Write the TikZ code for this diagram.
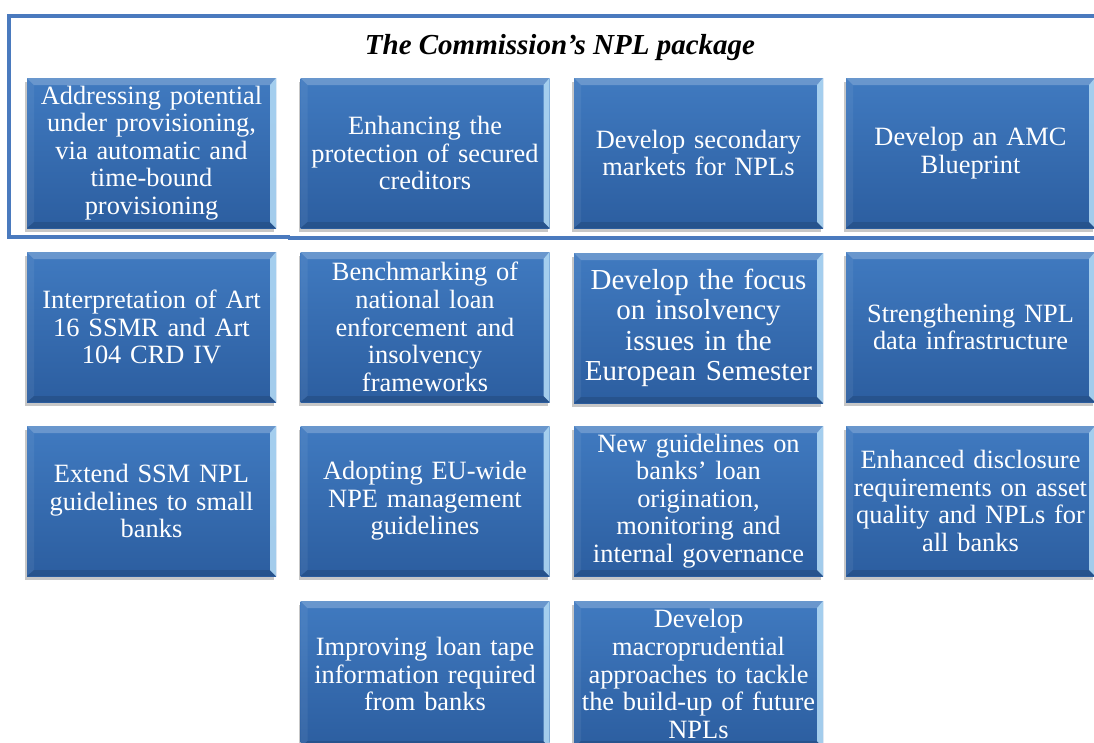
\documentclass[tikz,border=0pt]{standalone}
\usepackage{fontspec}
\setmainfont{Liberation Serif}
\usetikzlibrary{shadows}
\definecolor{frameblue}{RGB}{74,122,190}
\definecolor{boxtop}{RGB}{64,122,192}
\definecolor{boxbot}{RGB}{44,94,160}
\definecolor{bevright}{RGB}{176,216,244}
\tikzset{
  bx/.style={minimum width=249pt, minimum height=150pt, inner sep=0pt,
    text width=244pt, align=center, text=white,
    top color=boxtop, bottom color=boxbot, draw=none,
    font=\fontsize{26.4}{27.6}\selectfont,
    drop shadow={shadow xshift=-2pt, shadow yshift=-4pt, opacity=0.22, fill=black},
    path picture={
      \coordinate (pnw) at (path picture bounding box.north west);
      \coordinate (pne) at (path picture bounding box.north east);
      \coordinate (psw) at (path picture bounding box.south west);
      \coordinate (pse) at (path picture bounding box.south east);
      \fill[white, opacity=0.22] (pnw) -- (pne) -- ([shift={(-6pt,-7pt)}]pne) -- ([shift={(7pt,-7pt)}]pnw) -- cycle;
      \fill[black, opacity=0.12] (psw) -- (pse) -- ([shift={(-6pt,6pt)}]pse) -- ([shift={(7pt,6pt)}]psw) -- cycle;
      \fill[white, opacity=0.06] (pnw) -- (psw) -- ([shift={(7pt,6pt)}]psw) -- ([shift={(7pt,-7pt)}]pnw) -- cycle;
      \fill[bevright, opacity=0.9] (pne) -- (pse) -- ([shift={(-6pt,6pt)}]pse) -- ([shift={(-6pt,-7pt)}]pne) -- cycle;
    }},
  bigtxt/.style={font=\fontsize{29}{30.3}\selectfont},
  lowbx/.style={minimum height=146pt},
  frame/.style={draw=frameblue, line width=4pt},
  titlefont/.style={font=\fontsize{29}{30}\selectfont\bfseries\itshape}
}
\begin{document}
\begin{tikzpicture}[x=1pt,y=-1pt]
\path[use as bounding box] (0,0) rectangle (1094,742);
\clip (0,0) rectangle (1094,742);
\fill[white] (0,0) rectangle (1094,742);
\draw[frame] (1120,16) -- (9,16) -- (9,237) -- (290,237);
\draw[frame] (288,238) -- (1120,238);
\node[titlefont] (title) at (560,48) {The Commission’s NPL package};
% row 1
\node[bx] (a) at (151.5,153) {Addressing potential\\under provisioning,\\via automatic and\\time-bound\\provisioning};
\node[bx] (b) at (425,153) {Enhancing the\\protection of secured\\creditors};
\node[bx] (c) at (698.5,153) {Develop secondary\\markets for NPLs};
\node[bx] (d) at (970.5,153) {Develop an AMC\\Blueprint};
% row 2
\node[bx] (e) at (151.5,327) {Interpretation of Art\\16 SSMR and Art\\104 CRD IV};
\node[bx] (f) at (425,327) {Benchmarking of\\national loan\\enforcement and\\insolvency\\frameworks};
\node[bx,bigtxt] (g) at (698.5,328) {Develop the focus\\on insolvency\\issues in the\\European Semester};
\node[bx] (h) at (970.5,327) {Strengthening NPL\\data infrastructure};
% row 3
\node[bx] (i) at (151.5,501) {Extend SSM NPL\\guidelines to small\\banks};
\node[bx] (j) at (425,501) {Adopting EU-wide\\NPE management\\guidelines};
\node[bx] (k) at (698.5,501) {New guidelines on\\banks’ loan\\origination,\\monitoring and\\internal governance};
\node[bx] (l) at (970.5,501) {Enhanced disclosure\\requirements on asset\\quality and NPLs for\\all banks};
% row 4
\node[bx,lowbx] (m) at (425,674) {Improving loan tape\\information required\\from banks};
\node[bx,lowbx] (n) at (698.5,674) {Develop\\macroprudential\\approaches to tackle\\the build-up of future\\NPLs};
\end{tikzpicture}
\end{document}
